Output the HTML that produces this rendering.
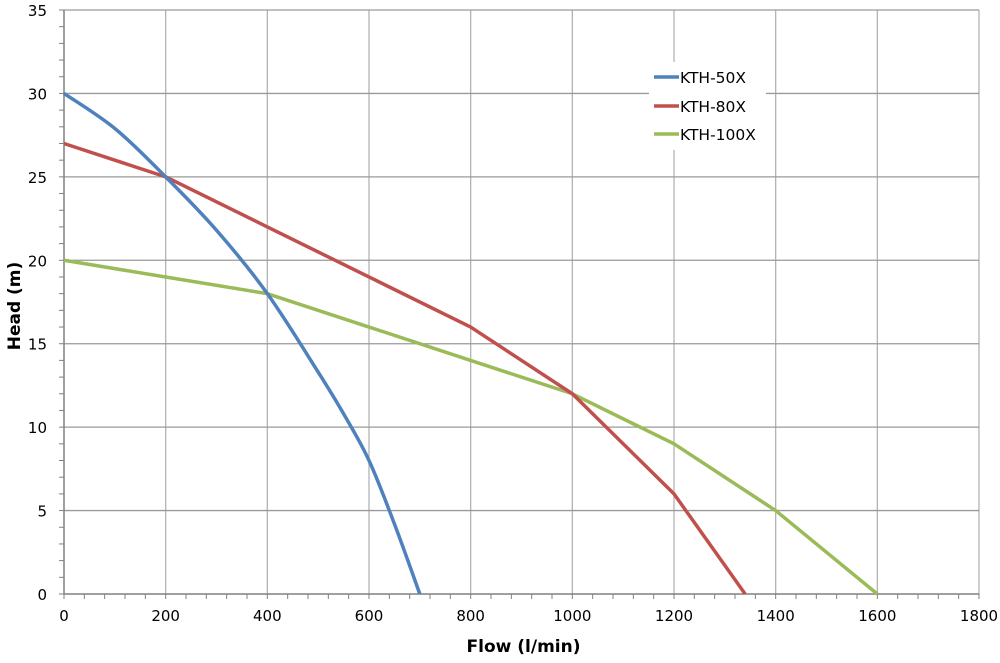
<!DOCTYPE html>
<html><head><meta charset="utf-8"><style>
body{margin:0;background:#fff;width:1000px;height:658px;overflow:hidden}
svg{font-family:"DejaVu Sans","Liberation Sans",sans-serif}
</style></head><body>
<svg id="s" width="1000" height="658" xmlns="http://www.w3.org/2000/svg"></svg>
<script>
const s=document.getElementById('s');
const X0=64,X1=979,Y0=594,Y1=10;
const fx=v=>X0+v*(X1-X0)/1800, fy=v=>Y0-v*(Y0-Y1)/35;
let h='';
for(let i=1;i<=9;i++){const x=fx(i*200);h+=`<line x1="${x}" y1="${Y1}" x2="${x}" y2="${Y0}" stroke="#b3b3b3" stroke-width="1.3"/>`;}
for(let j=1;j<=7;j++){const y=fy(j*5);h+=`<line x1="${X0}" y1="${y}" x2="${X1}" y2="${y}" stroke="#9a9a9a" stroke-width="1.3"/>`;}
h+=`<line x1="${X0}" y1="${Y1}" x2="${X0}" y2="${Y0}" stroke="#808080" stroke-width="1.5"/>`;
h+=`<line x1="${X0}" y1="${Y0}" x2="${X1}" y2="${Y0}" stroke="#808080" stroke-width="1.5"/>`;
for(let i=0;i<=45;i++){const x=fx(i*40);h+=`<line x1="${x}" y1="${Y0}" x2="${x}" y2="${Y0+5}" stroke="#808080"/>`;}
for(let j=0;j<=35;j++){const y=fy(j);h+=`<line x1="${X0-5}" y1="${y}" x2="${X0}" y2="${y}" stroke="#808080"/>`;}
for(let i=0;i<=9;i++){h+=`<text x="${fx(i*200)}" y="${Y0+27}" font-size="15" text-anchor="middle" fill="#000">${i*200}</text>`;}
for(let j=0;j<=7;j++){h+=`<text x="${X0-17}" y="${fy(j*5)+6}" font-size="15" text-anchor="end" fill="#000">${j*5}</text>`;}
h+=`<text x="${(X0+X1)/2+2}" y="652" font-size="17" font-weight="bold" text-anchor="middle">Flow (l/min)</text>`;
h+=`<text transform="translate(20,${(Y0+Y1)/2+4}) rotate(-90)" font-size="17" font-weight="bold" text-anchor="middle">Head (m)</text>`;
function path(pts,smooth){const p=pts.map(a=>[fx(a[0]),fy(a[1])]);let d=`M${p[0][0]},${p[0][1]}`;
 if(!smooth){for(let i=1;i<p.length;i++)d+=`L${p[i][0]},${p[i][1]}`;return d;}
 for(let i=0;i<p.length-1;i++){const a=p[Math.max(i-1,0)],b=p[i],c=p[i+1],e=p[Math.min(i+2,p.length-1)];
 d+=`C${b[0]+(c[0]-a[0])/6},${b[1]+(c[1]-a[1])/6} ${c[0]-(e[0]-b[0])/6},${c[1]-(e[1]-b[1])/6} ${c[0]},${c[1]}`;}return d;}
const blue=[[0,30],[100,27.9],[200,25],[300,21.8],[400,18],[500,13.3],[550,10.8],[600,8],[650,4.2],[700,0]];
const red=[[0,27],[200,25],[400,22],[600,19],[800,16],[1000,12],[1200,6],[1340,0]];
const green=[[0,20],[200,19],[400,18],[600,16],[800,14],[1000,12],[1200,9],[1400,5],[1600,0]];
h+=`<path d="${path(green,false)}" fill="none" stroke="#9bbb59" stroke-width="3.5" stroke-linejoin="round"/>`;
h+=`<path d="${path(red,false)}" fill="none" stroke="#c0504d" stroke-width="3.5" stroke-linejoin="round"/>`;
h+=`<path d="${path(blue,true)}" fill="none" stroke="#4f81bd" stroke-width="3.5"/>`;
h+=`<rect x="649" y="62" width="117" height="88" fill="#fff"/>`;
[["#4f81bd","KTH-50X",77],["#c0504d","KTH-80X",106],["#9bbb59","KTH-100X",134]].forEach(([c,t,y])=>{
 h+=`<line x1="654" y1="${y}" x2="679" y2="${y}" stroke="${c}" stroke-width="3.5"/>`;
 h+=`<text x="680" y="${y+6}" font-size="15.5">${t}</text>`;});
s.innerHTML=h;
</script>
</body></html>
